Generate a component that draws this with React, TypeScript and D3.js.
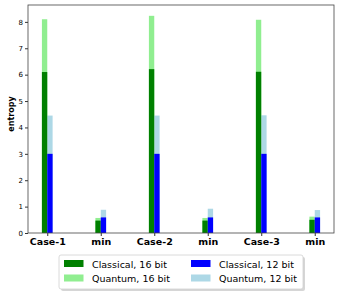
import { useEffect, useRef } from "react";
import * as d3 from "d3";

const categories = ["Case-1", "min", "Case-2", "min", "Case-3", "min"];
const quantum16 = [8.1, 0.57, 8.23, 0.57, 8.08, 0.62];
const classical16 = [6.1, 0.47, 6.21, 0.47, 6.11, 0.5];
const quantum12 = [4.45, 0.88, 4.45, 0.92, 4.46, 0.87];
const classical12 = [3.0, 0.59, 3.0, 0.59, 3.0, 0.59];
const yTicks = [0, 1, 2, 3, 4, 5, 6, 7, 8];

const legendItems = [
  { label: "Classical, 16 bit", color: "green" },
  { label: "Quantum, 16 bit", color: "lightgreen" },
  { label: "Classical, 12 bit", color: "blue" },
  { label: "Quantum, 12 bit", color: "lightblue" },
];

const App = () => {
  const svgRef = useRef<SVGSVGElement>(null);

  useEffect(() => {
    const svg = d3.select(svgRef.current);
    svg.selectAll("*").remove();

    const left = 28;
    const right = 334;
    const top = 5;
    const bottom = 233;
    const w = 0.1; // bar width in data units

    const x = d3.scaleLinear().domain([-0.36, 5.36]).range([left, right]);
    const y = d3.scaleLinear().domain([0, 8.64]).range([bottom, top]);

    const bw = x(w) - x(0);

    // quantum bars drawn behind classical ones
    const series = [
      { data: quantum16, color: "lightgreen", off: -w },
      { data: quantum12, color: "lightblue", off: 0 },
      { data: classical16, color: "green", off: -w },
      { data: classical12, color: "blue", off: 0 },
    ];
    series.forEach((s) => {
      svg
        .append("g")
        .selectAll("rect")
        .data(s.data)
        .enter()
        .append("rect")
        .attr("x", (d, i) => x(i + s.off))
        .attr("y", (d) => y(d))
        .attr("width", bw)
        .attr("height", (d) => y(0) - y(d))
        .attr("fill", s.color);
    });

    // Eixos
    const gx = svg
      .append("g")
      .attr("transform", `translate(0,${bottom})`)
      .call(
        d3
          .axisBottom(x)
          .tickValues(categories.map((_, i) => i))
          .tickFormat((d, i) => categories[i])
          .tickSize(3)
          .tickPadding(2)
      );
    gx.select(".domain").remove();
    gx.selectAll("line").attr("stroke", "#333");
    gx.selectAll("text")
      .attr("font-family", "DejaVu Sans")
      .attr("font-size", 9.5)
      .attr("font-weight", "bold")
      .attr("fill", "#000");

    const gy = svg
      .append("g")
      .attr("transform", `translate(${left},0)`)
      .call(d3.axisLeft(y).tickValues(yTicks).tickSize(3).tickPadding(2));
    gy.select(".domain").remove();
    gy.selectAll("line").attr("stroke", "#333");
    gy.selectAll("text")
      .attr("font-family", "DejaVu Sans")
      .attr("font-size", 7)
      .attr("fill", "#000");

    // spines
    svg
      .append("rect")
      .attr("x", left)
      .attr("y", top)
      .attr("width", right - left)
      .attr("height", bottom - top)
      .attr("fill", "none")
      .attr("stroke", "#444")
      .attr("stroke-width", 0.8);

    svg
      .append("text")
      .attr("transform", `translate(13.5,114) rotate(-90)`)
      .attr("text-anchor", "middle")
      .attr("font-family", "DejaVu Sans")
      .attr("font-size", 8)
      .attr("font-weight", "bold")
      .text("entropy");

    // Legenda
    const lg = svg.append("g");
    lg.append("rect")
      .attr("x", 61)
      .attr("y", 257)
      .attr("width", 244)
      .attr("height", 34)
      .attr("rx", 2)
      .attr("fill", "#bbb")
      .attr("opacity", 0.6);
    lg.append("rect")
      .attr("x", 59)
      .attr("y", 255)
      .attr("width", 244)
      .attr("height", 34)
      .attr("rx", 2)
      .attr("fill", "#fff")
      .attr("stroke", "#d0d0d0")
      .attr("stroke-width", 0.8);
    legendItems.forEach((item, i) => {
      const col = Math.floor(i / 2);
      const row = i % 2;
      const px = col === 0 ? 64 : 191;
      const py = 260 + row * 14.5;
      lg.append("rect")
        .attr("x", px)
        .attr("y", py)
        .attr("width", 19.5)
        .attr("height", 7)
        .attr("fill", item.color);
      lg.append("text")
        .attr("x", px + 28)
        .attr("y", py + 7.5)
        .attr("font-family", "DejaVu Sans")
        .attr("font-size", 9.5)
        .attr("fill", "#000")
        .text(item.label);
    });
  }, []);

  return (
    <svg
      ref={svgRef}
      width={340}
      height={293}
      style={{ position: "absolute", left: 0, top: 0 }}
    ></svg>
  );
};

export default App;
